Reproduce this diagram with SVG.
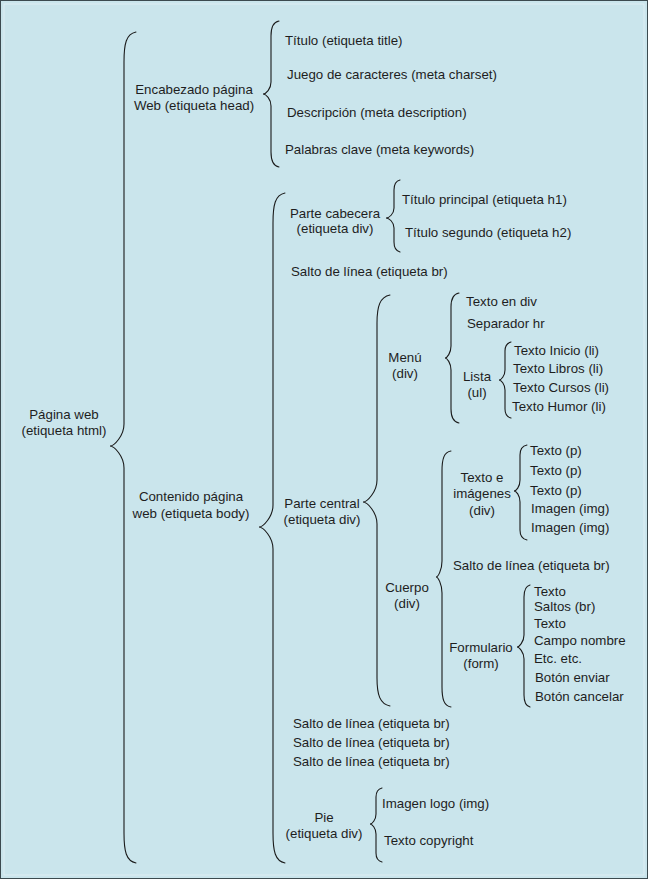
<svg xmlns="http://www.w3.org/2000/svg" width="648" height="879" viewBox="0 0 648 879">
<style>
.t{font-family:"Liberation Sans",Arial,sans-serif;font-size:13.3px;fill:#1e1e1e}
.c{text-anchor:middle}
.b{fill:none;stroke:#1a1a1a;stroke-width:1.1;stroke-linecap:round}
</style>
<rect x="0.5" y="0.5" width="647" height="878" fill="#cae5ec" stroke="#3c4a4f" stroke-width="1"/>
<rect x="4" y="4" width="640" height="871" fill="none" stroke="#e4f1f4" stroke-width="0.8"/>
<g id="connectors">
<path class="b" d="M136,32 C126,34 124,44 124,62 L124,424 C124,436 114,446 110,446 C114,446 124,456 124,468 L124,833 C124,851 126,861 136,863"/>
<path class="b" d="M279,21 C273,22 271,27 271,36 L271,82 C271,89 266,94 263,94 C266,94 271,99 271,106 L271,152 C271,161 273,166 279,167"/>
<path class="b" d="M285,193 C275,195 273,205 273,223 L273,505 C273,517 263,527 259,527 C263,527 273,537 273,549 L273,833 C273,851 275,861 285,863"/>
<path class="b" d="M400,180 C396,181 394,184 394,190 L394,208 C394,214 389,218 386,218 C389,218 394,222 394,228 L394,242 C394,248 396,251 400,252"/>
<path class="b" d="M390,295 C380,297 377,306 377,323 L377,480 C377,492 367,502 363,502 C367,502 377,512 377,524 L377,678 C377,695 380,704 390,706"/>
<path class="b" d="M459,293 C453,294 451,299 451,307 L451,346 C451,353 447,358 445,358 C447,358 451,363 451,370 L451,409 C451,417 453,422 459,423"/>
<path class="b" d="M511,342 C507,343 505,346 505,351 L505,370 C505,376 501,380 499,380 C501,380 505,384 505,390 L505,409 C505,414 507,417 511,418"/>
<path class="b" d="M451,451 C444,452 442,459 442,471 L442,561 C442,570 438,577 436,577 C438,577 442,584 442,593 L442,687 C442,699 444,706 451,707"/>
<path class="b" d="M527,445 C522,446 520,450 520,455 L520,480 C520,487 516,491 514,491 C516,491 520,495 520,502 L520,530 C520,535 522,539 527,540"/>
<path class="b" d="M530,585 C526,586 524,590 524,597 L524,635 C524,642 519,647 517,647 C519,647 524,652 524,659 L524,695 C524,702 526,706 530,707"/>
<path class="b" d="M382,788 C378,789 376,792 376,797 L376,814 C376,820 372,824 370,824 C372,824 376,828 376,834 L376,853 C376,858 378,861 382,862"/>
</g>
<g id="html"><text class="t c" x="64" y="419">Página web</text><text class="t c" x="64" y="435">(etiqueta html)</text></g>
<g id="head"><text class="t c" x="194" y="94">Encabezado página</text><text class="t c" x="194" y="110">Web (etiqueta head)</text></g>
<g id="title"><text class="t" x="285" y="45">Título (etiqueta title)</text></g>
<g id="charset"><text class="t" x="287" y="79">Juego de caracteres (meta charset)</text></g>
<g id="description"><text class="t" x="287" y="117">Descripción (meta description)</text></g>
<g id="keywords"><text class="t" x="285" y="154">Palabras clave (meta keywords)</text></g>
<g id="body"><text class="t c" x="191" y="501">Contenido página</text><text class="t c" x="191" y="518">web (etiqueta body)</text></g>
<g id="cabecera"><text class="t c" x="335" y="218">Parte cabecera</text><text class="t c" x="335" y="233">(etiqueta div)</text></g>
<g id="h1"><text class="t" x="402" y="204">Título principal (etiqueta h1)</text></g>
<g id="h2"><text class="t" x="405" y="237">Título segundo (etiqueta h2)</text></g>
<g id="br1"><text class="t" x="291" y="276">Salto de línea (etiqueta br)</text></g>
<g id="central"><text class="t c" x="322" y="508">Parte central</text><text class="t c" x="322" y="524">(etiqueta div)</text></g>
<g id="menu"><text class="t c" x="405" y="362">Menú</text><text class="t c" x="405" y="378">(div)</text></g>
<g id="textodiv"><text class="t" x="466" y="306">Texto en div</text></g>
<g id="hr"><text class="t" x="467" y="328">Separador hr</text></g>
<g id="lista"><text class="t c" x="477" y="381">Lista</text><text class="t c" x="477" y="397">(ul)</text></g>
<g id="li1"><text class="t" x="514" y="355">Texto Inicio (li)</text></g>
<g id="li2"><text class="t" x="513" y="373">Texto Libros (li)</text></g>
<g id="li3"><text class="t" x="513" y="392">Texto Cursos (li)</text></g>
<g id="li4"><text class="t" x="512" y="411">Texto Humor (li)</text></g>
<g id="cuerpo"><text class="t c" x="407" y="592">Cuerpo</text><text class="t c" x="407" y="608">(div)</text></g>
<g id="textoimg"><text class="t c" x="482" y="482">Texto e</text><text class="t c" x="482" y="498">imágenes</text><text class="t c" x="482" y="515">(div)</text></g>
<g id="p1"><text class="t" x="530" y="455">Texto (p)</text></g>
<g id="p2"><text class="t" x="530" y="475">Texto (p)</text></g>
<g id="p3"><text class="t" x="530" y="495">Texto (p)</text></g>
<g id="img1"><text class="t" x="531" y="513">Imagen (img)</text></g>
<g id="img2"><text class="t" x="531" y="532">Imagen (img)</text></g>
<g id="br2"><text class="t" x="453" y="570">Salto de línea (etiqueta br)</text></g>
<g id="form"><text class="t c" x="481" y="652">Formulario</text><text class="t c" x="481" y="668">(form)</text></g>
<g id="f1"><text class="t" x="534" y="596">Texto</text></g>
<g id="f2"><text class="t" x="534" y="611">Saltos (br)</text></g>
<g id="f3"><text class="t" x="534" y="628">Texto</text></g>
<g id="f4"><text class="t" x="534" y="645">Campo nombre</text></g>
<g id="f5"><text class="t" x="534" y="663">Etc. etc.</text></g>
<g id="f6"><text class="t" x="535" y="682">Botón enviar</text></g>
<g id="f7"><text class="t" x="535" y="701">Botón cancelar</text></g>
<g id="br3"><text class="t" x="293" y="728">Salto de línea (etiqueta br)</text></g>
<g id="br4"><text class="t" x="293" y="747">Salto de línea (etiqueta br)</text></g>
<g id="br5"><text class="t" x="293" y="766">Salto de línea (etiqueta br)</text></g>
<g id="pie"><text class="t c" x="324" y="822">Pie</text><text class="t c" x="324" y="838">(etiqueta div)</text></g>
<g id="logo"><text class="t" x="382" y="808">Imagen logo (img)</text></g>
<g id="copyright"><text class="t" x="384" y="845">Texto copyright</text></g>
</svg>
